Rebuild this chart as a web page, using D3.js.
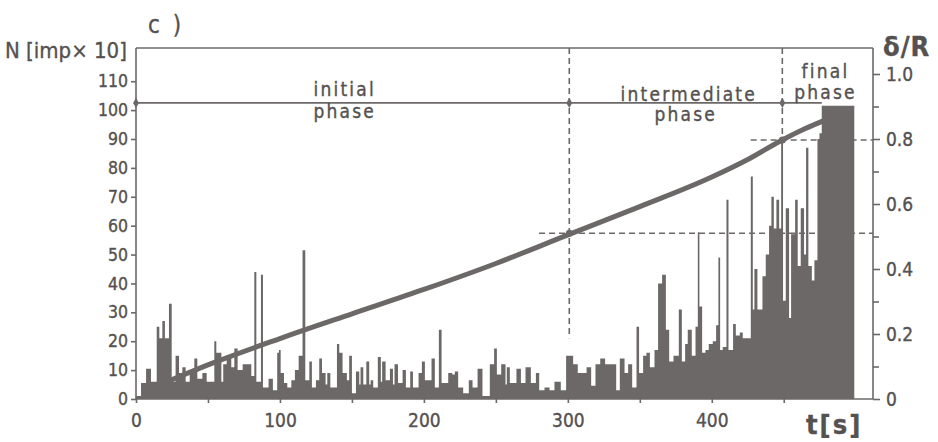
<!DOCTYPE html>
<html>
<head>
<meta charset="utf-8">
<script src="https://cdn.jsdelivr.net/npm/d3@7"></script>
<style>
  html, body { margin: 0; padding: 0; background: #ffffff; }
  svg { display: block; }
  text { font-family: "DejaVu Sans Condensed", "DejaVu Sans", sans-serif; fill: #555151; stroke: #555151; stroke-width: 0.35px; }
</style>
</head>
<body>
<svg id="chart" width="938" height="442"></svg>
<script>
// Impulse count histogram: each bin starts at binStart[i] (s) and ends where the next begins
const binStart = [0,3.5,7,10.4,14.4,16.2,18.3,20.1,22.9,24.8,27.5,29.9,32.2,34.5,37.3,40.5,42.6,46.1,49.1,54.4,55.8,59.3,60.6,63,66.2,68.3,70.6,74.1,80.1,82.2,83.6,86.8,88.2,92.1,95.1,98.1,
  99.3,100.5,102.8,105.1,107.9,110.4,113,115.7,117.6,120.4,122.2,125,127.3,129.2,131.7,132.9,135,139.6,141.2,143.5,146.5,148.1,150,152.8,155.1,156,157.9,160,162,163,164.8,168,170.1,171,173.4,176.4,178.5,179.6,182,185.2,187.5,190.5,192.4,196.3,
  198.6,200.7,205.3,207.6,210.4,212.3,216.9,219.7,221.5,223.8,227.3,231.2,233.8,237.3,240.7,245.8,248.8,250.7,253.7,256.7,257.6,259.7,264.3,267.4,270.6,274.3,277.8,280.1,283.8,287.3,290.7,295.1,298.8,
  300.7,303.7,306.9,313,316.2,319.2,322.5,325.9,330.1,333.6,336.1,339.4,341.9,344.7,347.7,349.5,352.3,354.6,357,360.2,362.7,365.5,368.1,370.4,373.4,377.1,379.2,381.5,383.3,386.1,388.7,390.3,391.4,393.3,395.6,397.9,
  400.7,403,404.6,405.8,407.6,410.2,411.6,414.8,416.7,419.5,421.5,427.1,428.5,429.6,431.7,435.2,437.5,439.8,441.4,443.1,444.9,446.8,448.2,449.5,451.4,453.7,455.1,457.9,459.7,461.8,464.1,465.5,467.1,469.5,471.3,473.4,474.8,476.4];
const binCount = [1,5.5,10.5,6,25,21,27,21,33,6,15,9,11,6,9,14,7,9,6,20,16,6,12,15,11,17.5,10,12,8,44,6,43,4,7,3,16,
  17,9,5.5,4,6.5,10,15,51.5,6.5,13,4,6.5,14,9,5,9,4,19,16,9,6.5,15,2,9.5,5,11,5,13,5,6.5,4,14.5,6,13,6.5,10.5,5,12,5.5,10,4,9.5,4,9,
  13,6.5,14,4,24,5.5,9,8.5,9.5,4,2,6.5,4,10.5,1,12,17.5,8.5,12,5,11,5.5,10.5,5.5,11,5.5,9,3,4,3,6,3,15,
  15,12,9,11,4.6,12,14,12,12,3,14,9,12,4,25,9,15,16,11,17,40,43,24,13,15,31,13,19,24,15,25,57.7,32,16,17,19,
  20,25.5,49,17,18,69,17,26,22,23,21,77,31,45,31,42.5,50,60,70,59,69,59,90,34,66,28,57,69,46,66,50,87,46,41,48,90,92,101.5];
const binEnd = 499;

// Relative displacement delta/R against time
const curveT = [20, 50, 100, 150, 200, 250, 300, 350, 400, 425, 449, 465, 477];
const curveR = [0.05, 0.105, 0.186, 0.262, 0.337, 0.417, 0.505, 0.592, 0.683, 0.737, 0.797, 0.832, 0.855];

// Phase boundaries (s) and the reference levels marked on the chart
const phaseBounds = [0, 301, 449];
const phaseLineN = 102.5;
const boundaryR = [0.51, 0.797];
const hDashStart = [280, 427];
const vDashBottomN = 21;

const phaseLabels = [
  { t: 145, lines: ["initial", "phase"], base: [96, 118], shift: [0, 0] },
  { t: 384, lines: ["intermediate", "phase"], base: [101, 121], shift: [0, -3] },
  { t: 479, lines: ["final", "phase"], base: [78, 99], shift: [0, 0] }
];

const nTicks = [0, 10, 20, 30, 40, 50, 60, 70, 80, 90, 100, 110];
const rTicksMajor = [0, 0.2, 0.4, 0.6, 0.8, 1.0];
const rTicksMinor = [0.1, 0.3, 0.5, 0.7, 0.9];
const tTicksMajor = [0, 100, 200, 300, 400];
const tTicksMinor = [50, 150, 250, 350, 450];

const ink = "#6c6868";
const svg = d3.select("#chart");

const x = d3.scaleLinear().domain([0, 512]).range([136, 873]);
const yN = d3.scaleLinear().domain([0, 121.5]).range([399, 48]);
const yR = d3.scaleLinear().domain([0, 1.08]).range([399, 48]);

// histogram drawn as one stepped silhouette
const steps = binStart.map((s, i) => ({ s, n: binCount[i] }));
steps.push({ s: binEnd, n: binCount[binCount.length - 1] });
svg.append("path").datum(steps)
  .attr("d", d3.area().curve(d3.curveStepAfter).x(d => x(d.s)).y0(yN(0)).y1(d => yN(d.n)))
  .attr("fill", ink);

// plot frame
const frame = svg.append("g").attr("stroke", ink).attr("stroke-width", 1.6).attr("fill", "none");
frame.append("line").attr("x1", x(0)).attr("x2", x(512)).attr("y1", yN(121.5)).attr("y2", yN(121.5));
frame.append("line").attr("x1", x(0)).attr("x2", x(512)).attr("y1", yN(0)).attr("y2", yN(0));
frame.append("line").attr("x1", x(0)).attr("x2", x(0)).attr("y1", yN(0)).attr("y2", yN(121.5));
frame.append("line").attr("x1", x(512)).attr("x2", x(512)).attr("y1", yN(0)).attr("y2", yN(121.5));

// phase separation line
svg.append("line")
  .attr("x1", x(0)).attr("x2", x(binStart[binStart.length - 1]))
  .attr("y1", yN(phaseLineN)).attr("y2", yN(phaseLineN))
  .attr("stroke", ink).attr("stroke-width", 1.6);

// dashed guides
const dash = svg.append("g").attr("stroke", ink).attr("stroke-width", 1.6).attr("stroke-dasharray", "6,4").attr("fill", "none");
dash.append("line").attr("x1", x(phaseBounds[1])).attr("x2", x(phaseBounds[1]))
  .attr("y1", yN(121.5)).attr("y2", yN(vDashBottomN));
dash.append("line").attr("x1", x(phaseBounds[2])).attr("x2", x(phaseBounds[2]))
  .attr("y1", yN(121.5)).attr("y2", yR(boundaryR[1]));
boundaryR.forEach((r, i) => {
  dash.append("line").attr("x1", x(hDashStart[i])).attr("x2", x(512))
    .attr("y1", yR(r)).attr("y2", yR(r));
});

// displacement curve
const curve = curveT.map((t, i) => [t, curveR[i]]);
svg.append("path").datum(curve)
  .attr("d", d3.line().x(d => x(d[0])).y(d => yR(d[1])).curve(d3.curveMonotoneX))
  .attr("fill", "none").attr("stroke", ink).attr("stroke-width", 5).attr("stroke-linecap", "round");

// markers at the phase boundaries
svg.append("g").selectAll("path").data(phaseBounds).join("path")
  .attr("d", d3.symbol(d3.symbolDiamond, 30))
  .attr("transform", d => `translate(${x(d)},${yN(phaseLineN)})`)
  .attr("fill", ink);
svg.append("g").selectAll("circle").data([[phaseBounds[1], boundaryR[0]], [phaseBounds[2], boundaryR[1]]]).join("circle")
  .attr("cx", d => x(d[0])).attr("cy", d => yR(d[1])).attr("r", 3.5).attr("fill", ink);

// axes
function styleAxis(g, size) {
  g.select(".domain").remove();
  g.selectAll(".tick line").attr("stroke", ink).attr("stroke-width", 1.6);
  g.selectAll(".tick text").attr("fill", "#555151").style("font-size", size + "px")
    .style("font-family", '"DejaVu Sans Condensed", "DejaVu Sans", sans-serif');
}
svg.append("g").attr("transform", `translate(${x(0)},0)`)
  .call(d3.axisLeft(yN).tickValues(nTicks).tickSize(5).tickPadding(3).tickFormat(d3.format("d")))
  .call(g => styleAxis(g, 17.5));
svg.append("g").attr("transform", `translate(${x(512)},0)`)
  .call(d3.axisRight(yR).tickValues(rTicksMajor).tickSize(7).tickPadding(6).tickFormat(d => d === 0 ? "0" : d3.format(".1f")(d)))
  .call(g => styleAxis(g, 19));
svg.append("g").attr("transform", `translate(${x(512)},0)`)
  .call(d3.axisRight(yR).tickValues(rTicksMinor).tickSize(6).tickFormat(""))
  .call(g => styleAxis(g, 19));
svg.append("g").attr("transform", `translate(0,${yN(0)})`)
  .call(d3.axisBottom(x).tickValues(tTicksMajor).tickSize(4).tickPadding(11).tickFormat(d3.format("d")))
  .call(g => styleAxis(g, 19));
svg.append("g").attr("transform", `translate(0,${yN(0)})`)
  .call(d3.axisBottom(x).tickValues(tTicksMinor).tickSize(4).tickFormat(""))
  .call(g => styleAxis(g, 19));

// phase captions
phaseLabels.forEach(p => {
  p.lines.forEach((s, j) => {
    svg.append("text").attr("x", x(p.t) + p.shift[j]).attr("y", p.base[j])
      .attr("text-anchor", "middle").style("font-size", "19px").style("letter-spacing", "2.2px")
      .text(s);
  });
});

// titles
svg.append("text").attr("x", 5).attr("y", 58).style("font-size", "22px").text("N [imp× 10]");
svg.append("text").attr("x", 148).attr("y", 33).style("font-size", "24px").style("letter-spacing", "3px").text("c )");
svg.append("text").attr("x", 883).attr("y", 56).style("font-size", "27px").style("font-weight", "bold").style("letter-spacing", "1px").text("δ/R");
svg.append("text").attr("x", 806).attr("y", 434).style("font-size", "27px").style("font-weight", "bold").style("letter-spacing", "2px").text("t[s]");
</script>
</body>
</html>
